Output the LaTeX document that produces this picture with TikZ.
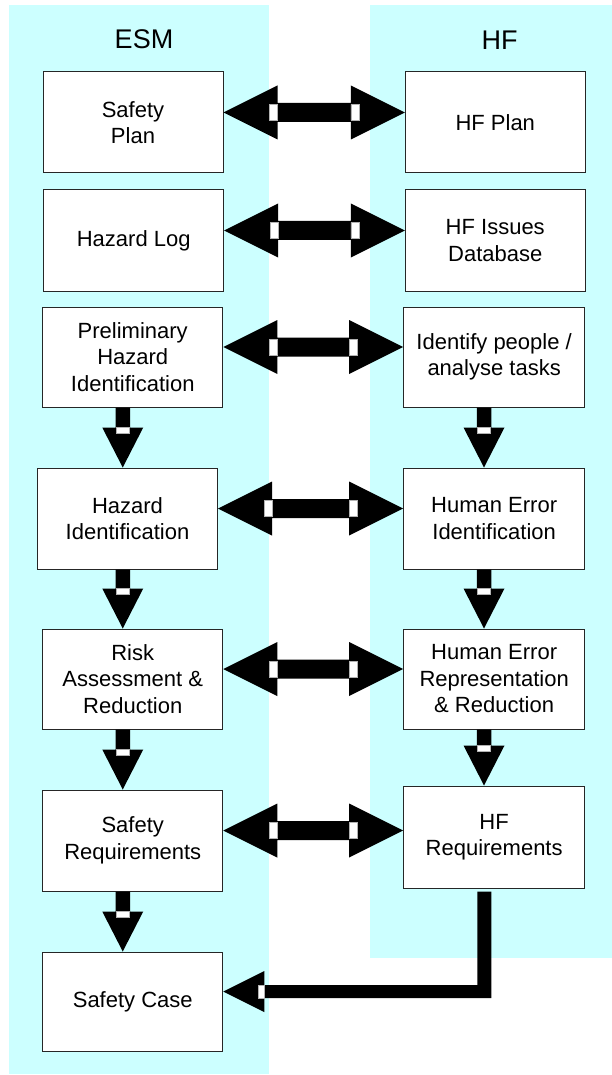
\documentclass[tikz,border=0pt]{standalone}
\usepackage{fontspec}
\setmainfont{Liberation Sans}
\usetikzlibrary{calc}
\definecolor{panel}{RGB}{204,255,255}
\newcommand\dblarr[2]{%
  \fill let \p1=(#1.east), \p2=(#2.west) in
    (\x1,\y1+10pt) -- (\x1+54pt,\y1+37pt) -- (\x1+54pt,\y1+19.5pt) -- (\x2-54pt,\y1+19.5pt)
    -- (\x2-54pt,\y1+37pt) -- (\x2,\y1+10pt) -- (\x2-54pt,\y1-17pt) -- (\x2-54pt,\y1+0.5pt)
    -- (\x1+54pt,\y1+0.5pt) -- (\x1+54pt,\y1-17pt) -- cycle;
  \filldraw[wmark] let \p1=(#1.east), \p2=(#2.west) in
    (\x1+46pt,\y1+2pt) rectangle (\x1+54pt,\y1+18pt)
    (\x2-54pt,\y1+2pt) rectangle (\x2-46pt,\y1+18pt);
}
\newcommand\downarr[3]{%
  \fill let \p1=(#1.south), \p2=(#2.north) in
    (#3pt-7.25pt,\y1) -- (#3pt+7.25pt,\y1) -- (#3pt+7.25pt,\y2+40pt) -- (#3pt+20.5pt,\y2+40pt)
    -- (#3pt,\y2) -- (#3pt-20.5pt,\y2+40pt) -- (#3pt-7.25pt,\y2+40pt) -- cycle;
  \filldraw[wmark] let \p2=(#2.north) in
    (#3pt-6.5pt,\y2+34.5pt) rectangle (#3pt+6.5pt,\y2+40pt);
}
\begin{document}
\begin{tikzpicture}[x=1pt,y=-1pt,
  box/.style={draw=black!85, line width=1pt, fill=white, minimum width=180pt,
    minimum height=101pt, inner sep=0pt, align=center,
    font=\fontsize{22}{26.5}\selectfont},
  title/.style={font=\fontsize{27}{32}\selectfont, inner sep=0pt},
  wmark/.style={fill=white, draw=gray!60, line width=0.4pt}]
\useasboundingbox (0,0) rectangle (612,1075);
\fill[panel] (9,5) rectangle (269,1074);
\fill[panel] (370,5) rectangle (612,958);
\node[title] (esm) at (144,39) {ESM};
\node[title] (hf) at (499.5,40) {HF};
% left column
\node[box] (sp) at (133,122.5) {Safety\\Plan};
\node[box] (hl) at (133.7,240.5) {Hazard Log};
\node[box, minimum height=100pt] (ph) at (132.75,357) {Preliminary\\Hazard\\Identification};
\node[box] (hi) at (127.5,518.5) {Hazard\\Identification};
\node[box, minimum height=100pt] (ra) at (132.75,679) {Risk\\Assessment \&\\Reduction};
\node[box] (sr) at (132.75,840.5) {Safety\\Requirements};
\node[box, minimum height=99pt] (sc) at (132.75,1001.5) {Safety Case};
% right column
\node[box] (hp) at (495.25,122.5) {HF Plan};
\node[box] (hfi) at (495.25,240.5) {HF Issues\\Database};
\node[box, minimum width=181pt, minimum height=100pt] (ip) at (494.15,357) {Identify people /\\analyse tasks};
\node[box, minimum width=181pt] (hei) at (494.15,518.5) {Human Error\\Identification};
\node[box, minimum width=181pt, minimum height=100pt] (her) at (494.15,679) {Human Error\\Representation\\\& Reduction};
\node[box, minimum width=181pt, minimum height=102pt] (hfr) at (494.15,837) {HF\\Requirements};
% double arrows
\dblarr{sp}{hp}
\dblarr{hl}{hfi}
\dblarr{ph}{ip}
\dblarr{hi}{hei}
\dblarr{ra}{her}
\dblarr{sr}{hfr}
% down arrows
\downarr{ph}{hi}{122.75}
\downarr{hi}{ra}{122.75}
\downarr{ra}{sr}{122.75}
\downarr{sr}{sc}{122.75}
\downarr{ip}{hei}{484}
\downarr{hei}{her}{484}
\downarr{her}{hfr}{484}
% elbow connector
\fill let \p1=(hfr.south), \p2=(sc.east) in
  (477.25pt,\y1-3pt) -- (491.25pt,\y1-3pt) -- (491.25pt,\y2+3.5pt) -- (\x2+41pt,\y2+3.5pt)
  -- (\x2+41pt,\y2-10.5pt) -- (\x2,\y2+10pt) -- (\x2+41pt,\y2+30.5pt) -- (\x2+41pt,\y2+16.5pt)
  -- (477.25pt,\y2+16.5pt) -- cycle;
\filldraw[wmark] let \p2=(sc.east) in (\x2+35pt,\y2+3.5pt) rectangle (\x2+41pt,\y2+16.5pt);
\end{tikzpicture}
\end{document}
